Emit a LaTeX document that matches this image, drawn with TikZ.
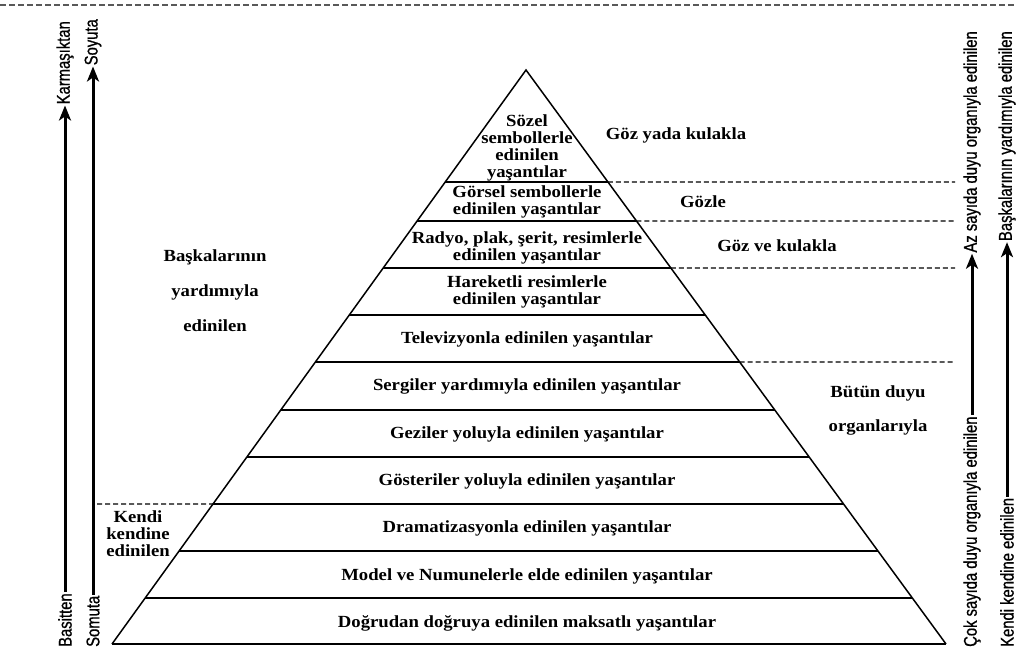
\documentclass[tikz,border=0pt]{standalone}
\usepackage{fontspec}
\setmainfont[FakeStretch=1.1]{Liberation Serif}
\newfontfamily\narrowsans[FakeStretch=0.8,FakeBold=0.8]{Liberation Sans}
\usetikzlibrary{calc,arrows.meta}
\begin{document}
\begin{tikzpicture}[x=1pt,y=-1pt,
  pyr/.style={line width=1.5pt, line join=miter},
  lvl/.style={line width=1.3pt},
  baseline/.style={line width=2.6pt},
  dsh/.style={dash pattern=on 5pt off 3pt, line width=1.1pt},
  topdash/.style={dash pattern=on 6pt off 3pt, line width=1.3pt, black!65},
  lab/.style={font=\bfseries\fontsize{17}{17}\selectfont, align=center, inner sep=0pt},
  vlab/.style={font=\narrowsans\fontsize{18.5}{18.5}\selectfont, rotate=90, inner sep=1pt},
  axarrow/.style={line width=3pt, -{Stealth[length=15pt,width=12pt,inset=4pt]}}
]
\useasboundingbox (0,0) rectangle (1016,651);
\fill[white] (0,0) rectangle (1016,651);

% top dashed border
\draw[topdash] (0,5) -- (1016,5);

% pyramid
\coordinate (A) at (526,70);
\coordinate (BL) at (112,644);
\coordinate (BR) at (946,644);
\draw[pyr] (BL) -- (A) -- (BR);
\draw[baseline] (BL) -- (BR);
\foreach \yy in {182,221,268,315,362,410,457,504,551,598}{
  \draw[lvl] ($(A)!{(\yy-70)/574}!(BL)$) -- ($(A)!{(\yy-70)/574}!(BR)$);
}

% dashed separators right
\foreach \yy in {182,221,268,362}{
  \draw[dsh] ($(A)!{(\yy-70)/574}!(BR)$) -- (955,\yy);
}
% dashed separator left
\draw[dsh] (97,504) -- ($(A)!{(504-70)/574}!(BL)$);

% pyramid texts
\node[lab] (t1) at (527,148) {Sözel\\sembollerle\\edinilen\\yaşantılar};
\node[lab] (t2) at (527,202) {Görsel sembollerle\\edinilen yaşantılar};
\node[lab] (t3) at (527,248) {Radyo, plak, şerit, resimlerle\\edinilen yaşantılar};
\node[lab] (t4) at (527,292) {Hareketli resimlerle\\edinilen yaşantılar};
\node[lab] (t5) at (527,339) {Televizyonla edinilen yaşantılar};
\node[lab] (t6) at (527,386) {Sergiler yardımıyla edinilen yaşantılar};
\node[lab] (t7) at (527,434) {Geziler yoluyla edinilen yaşantılar};
\node[lab] (t8) at (527,481) {Gösteriler yoluyla edinilen yaşantılar};
\node[lab] (t9) at (527,528) {Dramatizasyonla edinilen yaşantılar};
\node[lab] (t10) at (527,576) {Model ve Numunelerle elde edinilen yaşantılar};
\node[lab] (t11) at (527,623) {Doğrudan doğruya edinilen maksatlı yaşantılar};

% right side labels
\node[lab] (r1) at (676,135) {Göz yada kulakla};
\node[lab] (r2) at (703,202) {Gözle};
\node[lab] (r3) at (777,246) {Göz ve kulakla};
\node[lab] (r4) at (878,393) {Bütün duyu};
\node[lab] (r5) at (878,427) {organlarıyla};

% left side labels
\node[lab] (l1) at (215,257) {Başkalarının};
\node[lab] (l2) at (215,292) {yardımıyla};
\node[lab] (l3) at (215,326) {edinilen};
\node[lab] (l4) at (138,534) {Kendi\\kendine\\edinilen};

% left axes
\node[vlab, anchor=east] (karm) at (65,20) {Karmaşıktan};
\node[vlab, anchor=west] (basit) at (65,648) {Basitten};
\draw[axarrow] (basit.east) -- (karm.west);
\node[vlab, anchor=east] (soyut) at (93,18) {Soyuta};
\node[vlab, anchor=west] (somut) at (93,648) {Somuta};
\draw[axarrow] (somut.east) -- (soyut.west);

% right axes
\node[vlab, anchor=east] (az) at (972,30) {Az sayıda duyu organıyla edinilen};
\node[vlab, anchor=west] (cok) at (972,648) {Çok sayıda duyu organıyla edinilen};
\draw[axarrow] (cok.east) -- (az.west);
\node[vlab, anchor=east] (bask) at (1007,30) {Başkalarının yardımıyla edinilen};
\node[vlab, anchor=west] (kendi) at (1007,648) {Kendi kendine edinilen};
\draw[axarrow] (kendi.east) -- (bask.west);
\end{tikzpicture}
\end{document}
